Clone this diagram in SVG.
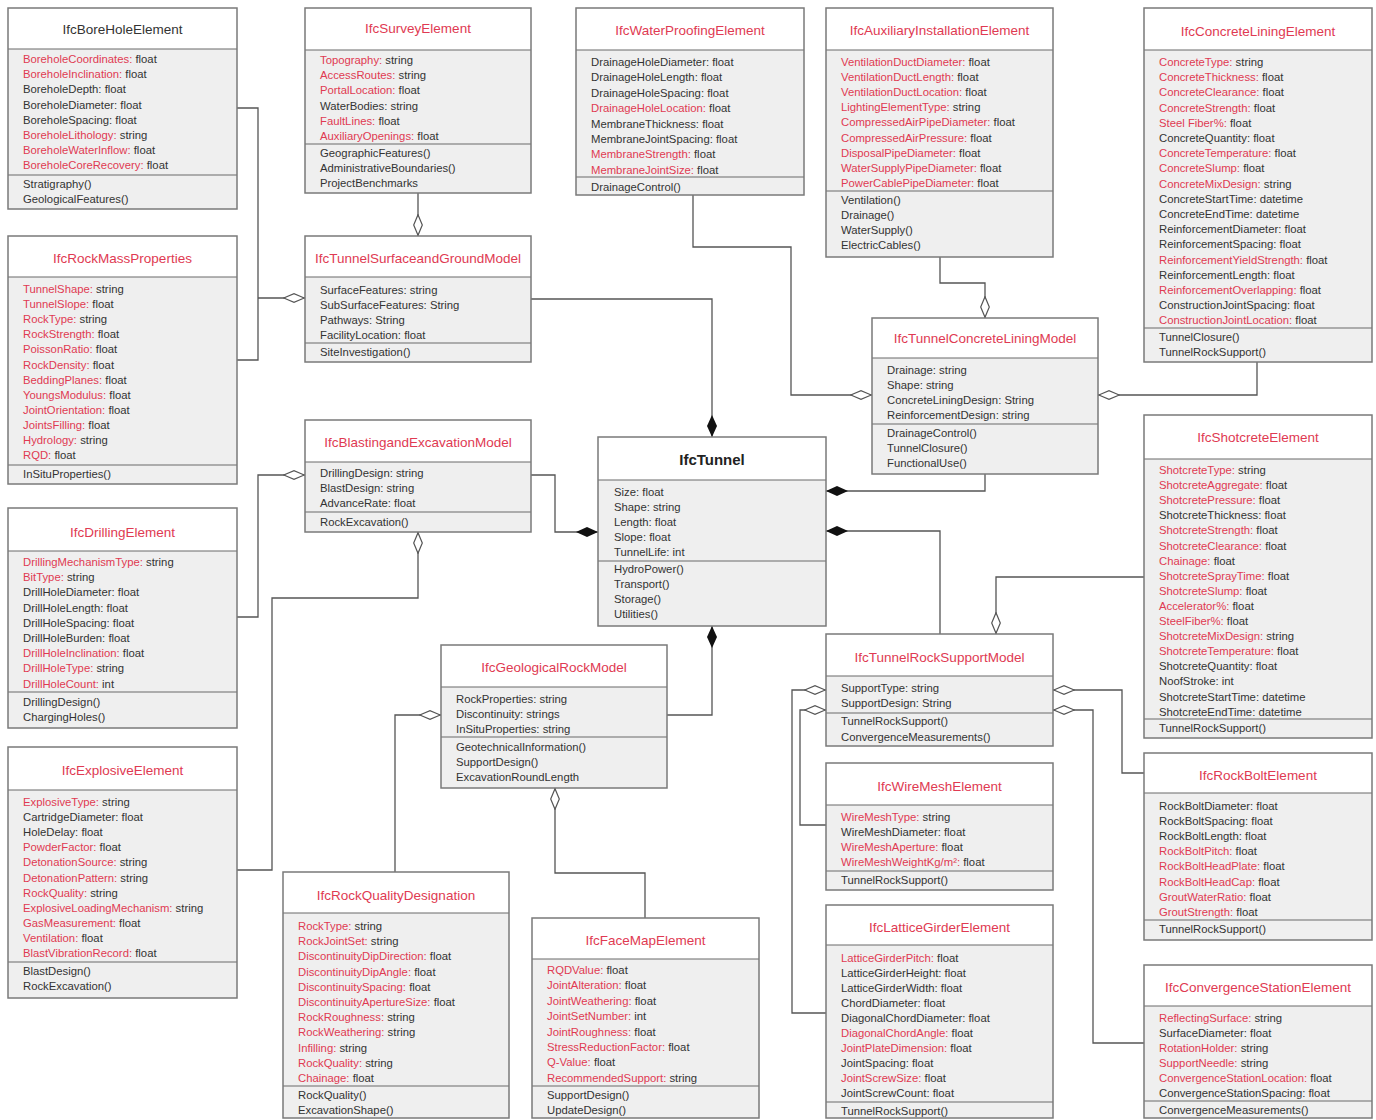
<svg xmlns="http://www.w3.org/2000/svg" width="1376" height="1120" viewBox="0 0 1376 1120">
<style>
  .body { fill: #efefef; stroke: none; }
  .head { fill: #ffffff; stroke: none; }
  .frame { fill: none; stroke: #7a7a7a; stroke-width: 1.5; }
  .div { stroke: #6a6a6a; stroke-width: 1.2; }
  text { font-family: "Liberation Sans", Arial, sans-serif; }
  .a { font-size: 11.3px; fill: #333333; }
  .r { fill: #e03a52; }
  .ttl { font-size: 13.5px; fill: #e03a52; text-anchor: middle; }
  .ttlk { font-size: 13.5px; fill: #333333; text-anchor: middle; }
  .main { font-size: 15px; font-weight: bold; fill: #222222; text-anchor: middle; }
  .link { fill: none; stroke: #555555; stroke-width: 1.3; }
  .agg { marker-end: url(#aggDiamond); }
  .comp { marker-end: url(#compDiamond); }
</style>
<defs>
  <marker id="aggDiamond" viewBox="0 0 22 10" refX="22" refY="5" markerWidth="22" markerHeight="10" markerUnits="userSpaceOnUse" orient="auto">
    <path d="M0.7,5 L11,0.7 L21.3,5 L11,9.3 Z" fill="#ffffff" stroke="#555555" stroke-width="1.2"/>
  </marker>
  <marker id="compDiamond" viewBox="0 0 22 10" refX="22" refY="5" markerWidth="22" markerHeight="10" markerUnits="userSpaceOnUse" orient="auto">
    <path d="M0,5 L11,0 L22,5 L11,10 Z" fill="#111111"/>
  </marker>
</defs>
<rect width="1376" height="1120" fill="#ffffff"/>

<!-- connectors -->
<g id="connectors">
  <polyline class="link" points="237,108 258,108 258,360 237,360"/>
  <polyline class="link agg" points="258,298 305,298"/>
  <polyline class="link agg" points="237,617 258,617 258,475 305,475"/>
  <polyline class="link agg" points="237,870 272,870 272,598 418,598 418,532"/>
  <polyline class="link agg" points="418,193 418,236"/>
  <polyline class="link comp" points="531,299 712,299 712,437"/>
  <polyline class="link comp" points="531,475 555,475 555,532 598,532"/>
  <polyline class="link comp" points="667,715 712,715 712,626"/>
  <polyline class="link comp" points="985,474 985,491 826,491"/>
  <polyline class="link comp" points="940,634 940,531 826,531"/>
  <polyline class="link agg" points="693,195 693,247 791,247 791,395 872,395"/>
  <polyline class="link agg" points="940,257 940,283 985,283 985,318"/>
  <polyline class="link agg" points="1257,362 1257,395 1098,395"/>
  <polyline class="link agg" points="1144,577 996,577 996,634"/>
  <polyline class="link agg" points="826,1013 792,1013 792,690 826,690"/>
  <polyline class="link agg" points="826,825 800,825 800,710 826,710"/>
  <polyline class="link agg" points="1144,773 1122,773 1122,690 1053,690"/>
  <polyline class="link agg" points="1144,1043 1093,1043 1093,710 1053,710"/>
  <polyline class="link agg" points="395,872 395,715 441,715"/>
  <polyline class="link agg" points="645,918 645,873 555,873 555,788"/>
</g>

<!-- IfcBoreHoleElement -->
<g id="IfcBoreHoleElement">
  <rect class="body" x="8" y="8" width="229" height="201"/>
  <rect class="head" x="8" y="8" width="229" height="41"/>
  <line class="div" x1="8" y1="49" x2="237" y2="49"/>
  <line class="div" x1="8" y1="175" x2="237" y2="175"/>
  <rect class="frame" x="8" y="8" width="229" height="201"/>
  <text class="ttlk" x="122.5" y="33.5">IfcBoreHoleElement</text>
  <text class="a" x="23" y="63"><tspan class="r">BoreholeCoordinates:</tspan> float</text>
  <text class="a" x="23" y="78.2"><tspan class="r">BoreholeInclination:</tspan> float</text>
  <text class="a" x="23" y="93.4">BoreholeDepth: float</text>
  <text class="a" x="23" y="108.6">BoreholeDiameter: float</text>
  <text class="a" x="23" y="123.8">BoreholeSpacing: float</text>
  <text class="a" x="23" y="139"><tspan class="r">BoreholeLithology:</tspan> string</text>
  <text class="a" x="23" y="154.2"><tspan class="r">BoreholeWaterInflow:</tspan> float</text>
  <text class="a" x="23" y="169.4"><tspan class="r">BoreholeCoreRecovery:</tspan> float</text>
  <text class="a" x="23" y="188">Stratigraphy()</text>
  <text class="a" x="23" y="203">GeologicalFeatures()</text>
</g>

<!-- IfcRockMassProperties -->
<g id="IfcRockMassProperties">
  <rect class="body" x="8" y="236" width="229" height="248"/>
  <rect class="head" x="8" y="236" width="229" height="41"/>
  <line class="div" x1="8" y1="277" x2="237" y2="277"/>
  <line class="div" x1="8" y1="465" x2="237" y2="465"/>
  <rect class="frame" x="8" y="236" width="229" height="248"/>
  <text class="ttl" x="122.5" y="262.5">IfcRockMassProperties</text>
  <text class="a" x="23" y="293"><tspan class="r">TunnelShape:</tspan> string</text>
  <text class="a" x="23" y="308.1"><tspan class="r">TunnelSlope:</tspan> float</text>
  <text class="a" x="23" y="323.2"><tspan class="r">RockType:</tspan> string</text>
  <text class="a" x="23" y="338.3"><tspan class="r">RockStrength:</tspan> float</text>
  <text class="a" x="23" y="353.4"><tspan class="r">PoissonRatio:</tspan> float</text>
  <text class="a" x="23" y="368.5"><tspan class="r">RockDensity:</tspan> float</text>
  <text class="a" x="23" y="383.6"><tspan class="r">BeddingPlanes:</tspan> float</text>
  <text class="a" x="23" y="398.7"><tspan class="r">YoungsModulus:</tspan> float</text>
  <text class="a" x="23" y="413.8"><tspan class="r">JointOrientation:</tspan> float</text>
  <text class="a" x="23" y="428.9"><tspan class="r">JointsFilling:</tspan> float</text>
  <text class="a" x="23" y="444"><tspan class="r">Hydrology:</tspan> string</text>
  <text class="a" x="23" y="459.1"><tspan class="r">RQD:</tspan> float</text>
  <text class="a" x="23" y="478">InSituProperties()</text>
</g>

<!-- IfcDrillingElement -->
<g id="IfcDrillingElement">
  <rect class="body" x="8" y="508" width="229" height="220"/>
  <rect class="head" x="8" y="508" width="229" height="43"/>
  <line class="div" x1="8" y1="551" x2="237" y2="551"/>
  <line class="div" x1="8" y1="692" x2="237" y2="692"/>
  <rect class="frame" x="8" y="508" width="229" height="220"/>
  <text class="ttl" x="122.5" y="536.5">IfcDrillingElement</text>
  <text class="a" x="23" y="566"><tspan class="r">DrillingMechanismType:</tspan> string</text>
  <text class="a" x="23" y="581.2"><tspan class="r">BitType:</tspan> string</text>
  <text class="a" x="23" y="596.4">DrillHoleDiameter: float</text>
  <text class="a" x="23" y="611.6">DrillHoleLength: float</text>
  <text class="a" x="23" y="626.8">DrillHoleSpacing: float</text>
  <text class="a" x="23" y="642">DrillHoleBurden: float</text>
  <text class="a" x="23" y="657.2"><tspan class="r">DrillHoleInclination:</tspan> float</text>
  <text class="a" x="23" y="672.4"><tspan class="r">DrillHoleType:</tspan> string</text>
  <text class="a" x="23" y="687.6"><tspan class="r">DrillHoleCount:</tspan> int</text>
  <text class="a" x="23" y="706">DrillingDesign()</text>
  <text class="a" x="23" y="721">ChargingHoles()</text>
</g>

<!-- IfcExplosiveElement -->
<g id="IfcExplosiveElement">
  <rect class="body" x="8" y="747" width="229" height="251"/>
  <rect class="head" x="8" y="747" width="229" height="43"/>
  <line class="div" x1="8" y1="790" x2="237" y2="790"/>
  <line class="div" x1="8" y1="962" x2="237" y2="962"/>
  <rect class="frame" x="8" y="747" width="229" height="251"/>
  <text class="ttl" x="122.5" y="774.5">IfcExplosiveElement</text>
  <text class="a" x="23" y="806"><tspan class="r">ExplosiveType:</tspan> string</text>
  <text class="a" x="23" y="821.1">CartridgeDiameter: float</text>
  <text class="a" x="23" y="836.2">HoleDelay: float</text>
  <text class="a" x="23" y="851.3"><tspan class="r">PowderFactor:</tspan> float</text>
  <text class="a" x="23" y="866.4"><tspan class="r">DetonationSource:</tspan> string</text>
  <text class="a" x="23" y="881.5"><tspan class="r">DetonationPattern:</tspan> string</text>
  <text class="a" x="23" y="896.6"><tspan class="r">RockQuality:</tspan> string</text>
  <text class="a" x="23" y="911.7"><tspan class="r">ExplosiveLoadingMechanism:</tspan> string</text>
  <text class="a" x="23" y="926.8"><tspan class="r">GasMeasurement:</tspan> float</text>
  <text class="a" x="23" y="941.9"><tspan class="r">Ventilation:</tspan> float</text>
  <text class="a" x="23" y="957"><tspan class="r">BlastVibrationRecord:</tspan> float</text>
  <text class="a" x="23" y="975">BlastDesign()</text>
  <text class="a" x="23" y="990">RockExcavation()</text>
</g>

<!-- IfcSurveyElement -->
<g id="IfcSurveyElement">
  <rect class="body" x="305" y="8" width="226" height="185"/>
  <rect class="head" x="305" y="8" width="226" height="42"/>
  <line class="div" x1="305" y1="50" x2="531" y2="50"/>
  <line class="div" x1="305" y1="144" x2="531" y2="144"/>
  <rect class="frame" x="305" y="8" width="226" height="185"/>
  <text class="ttl" x="418" y="32.5">IfcSurveyElement</text>
  <text class="a" x="320" y="64"><tspan class="r">Topography:</tspan> string</text>
  <text class="a" x="320" y="79.2"><tspan class="r">AccessRoutes:</tspan> string</text>
  <text class="a" x="320" y="94.4"><tspan class="r">PortalLocation:</tspan> float</text>
  <text class="a" x="320" y="109.6">WaterBodies: string</text>
  <text class="a" x="320" y="124.8"><tspan class="r">FaultLines:</tspan> float</text>
  <text class="a" x="320" y="140"><tspan class="r">AuxiliaryOpenings:</tspan> float</text>
  <text class="a" x="320" y="157">GeographicFeatures()</text>
  <text class="a" x="320" y="172">AdministrativeBoundaries()</text>
  <text class="a" x="320" y="187">ProjectBenchmarks</text>
</g>

<!-- IfcTunnelSurfaceandGroundModel -->
<g id="IfcTunnelSurfaceandGroundModel">
  <rect class="body" x="305" y="236" width="226" height="126"/>
  <rect class="head" x="305" y="236" width="226" height="41"/>
  <line class="div" x1="305" y1="277" x2="531" y2="277"/>
  <line class="div" x1="305" y1="343" x2="531" y2="343"/>
  <rect class="frame" x="305" y="236" width="226" height="126"/>
  <text class="ttl" x="418" y="262.5">IfcTunnelSurfaceandGroundModel</text>
  <text class="a" x="320" y="294">SurfaceFeatures: string</text>
  <text class="a" x="320" y="309">SubSurfaceFeatures: String</text>
  <text class="a" x="320" y="324">Pathways: String</text>
  <text class="a" x="320" y="339">FacilityLocation: float</text>
  <text class="a" x="320" y="356">SiteInvestigation()</text>
</g>

<!-- IfcBlastingandExcavationModel -->
<g id="IfcBlastingandExcavationModel">
  <rect class="body" x="305" y="420" width="226" height="112"/>
  <rect class="head" x="305" y="420" width="226" height="42"/>
  <line class="div" x1="305" y1="462" x2="531" y2="462"/>
  <line class="div" x1="305" y1="512" x2="531" y2="512"/>
  <rect class="frame" x="305" y="420" width="226" height="112"/>
  <text class="ttl" x="418" y="446.5">IfcBlastingandExcavationModel</text>
  <text class="a" x="320" y="477">DrillingDesign: string</text>
  <text class="a" x="320" y="492">BlastDesign: string</text>
  <text class="a" x="320" y="507">AdvanceRate: float</text>
  <text class="a" x="320" y="526">RockExcavation()</text>
</g>

<!-- IfcWaterProofingElement -->
<g id="IfcWaterProofingElement">
  <rect class="body" x="576" y="8" width="228" height="187"/>
  <rect class="head" x="576" y="8" width="228" height="42"/>
  <line class="div" x1="576" y1="50" x2="804" y2="50"/>
  <line class="div" x1="576" y1="177" x2="804" y2="177"/>
  <rect class="frame" x="576" y="8" width="228" height="187"/>
  <text class="ttl" x="690" y="34.5">IfcWaterProofingElement</text>
  <text class="a" x="591" y="66">DrainageHoleDiameter: float</text>
  <text class="a" x="591" y="81.4">DrainageHoleLength: float</text>
  <text class="a" x="591" y="96.8">DrainageHoleSpacing: float</text>
  <text class="a" x="591" y="112.2"><tspan class="r">DrainageHoleLocation:</tspan> float</text>
  <text class="a" x="591" y="127.6">MembraneThickness: float</text>
  <text class="a" x="591" y="143">MembraneJointSpacing: float</text>
  <text class="a" x="591" y="158.4"><tspan class="r">MembraneStrength:</tspan> float</text>
  <text class="a" x="591" y="173.8"><tspan class="r">MembraneJointSize:</tspan> float</text>
  <text class="a" x="591" y="191">DrainageControl()</text>
</g>

<!-- IfcAuxiliaryInstallationElement -->
<g id="IfcAuxiliaryInstallationElement">
  <rect class="body" x="826" y="8" width="227" height="249"/>
  <rect class="head" x="826" y="8" width="227" height="42"/>
  <line class="div" x1="826" y1="50" x2="1053" y2="50"/>
  <line class="div" x1="826" y1="191" x2="1053" y2="191"/>
  <rect class="frame" x="826" y="8" width="227" height="249"/>
  <text class="ttl" x="939.5" y="34.5">IfcAuxiliaryInstallationElement</text>
  <text class="a" x="841" y="66"><tspan class="r">VentilationDuctDiameter:</tspan> float</text>
  <text class="a" x="841" y="81.1"><tspan class="r">VentilationDuctLength:</tspan> float</text>
  <text class="a" x="841" y="96.2"><tspan class="r">VentilationDuctLocation:</tspan> float</text>
  <text class="a" x="841" y="111.3"><tspan class="r">LightingElementType:</tspan> string</text>
  <text class="a" x="841" y="126.4"><tspan class="r">CompressedAirPipeDiameter:</tspan> float</text>
  <text class="a" x="841" y="141.5"><tspan class="r">CompressedAirPressure:</tspan> float</text>
  <text class="a" x="841" y="156.6"><tspan class="r">DisposalPipeDiameter:</tspan> float</text>
  <text class="a" x="841" y="171.7"><tspan class="r">WaterSupplyPipeDiameter:</tspan> float</text>
  <text class="a" x="841" y="186.8"><tspan class="r">PowerCablePipeDiameter:</tspan> float</text>
  <text class="a" x="841" y="204">Ventilation()</text>
  <text class="a" x="841" y="219">Drainage()</text>
  <text class="a" x="841" y="234">WaterSupply()</text>
  <text class="a" x="841" y="249">ElectricCables()</text>
</g>

<!-- IfcConcreteLiningElement -->
<g id="IfcConcreteLiningElement">
  <rect class="body" x="1144" y="8" width="228" height="354"/>
  <rect class="head" x="1144" y="8" width="228" height="42"/>
  <line class="div" x1="1144" y1="50" x2="1372" y2="50"/>
  <line class="div" x1="1144" y1="328" x2="1372" y2="328"/>
  <rect class="frame" x="1144" y="8" width="228" height="354"/>
  <text class="ttl" x="1258" y="35.5">IfcConcreteLiningElement</text>
  <text class="a" x="1159" y="66"><tspan class="r">ConcreteType:</tspan> string</text>
  <text class="a" x="1159" y="81.2"><tspan class="r">ConcreteThickness:</tspan> float</text>
  <text class="a" x="1159" y="96.4"><tspan class="r">ConcreteClearance:</tspan> float</text>
  <text class="a" x="1159" y="111.6"><tspan class="r">ConcreteStrength:</tspan> float</text>
  <text class="a" x="1159" y="126.8"><tspan class="r">Steel Fiber%:</tspan> float</text>
  <text class="a" x="1159" y="142">ConcreteQuantity: float</text>
  <text class="a" x="1159" y="157.2"><tspan class="r">ConcreteTemperature:</tspan> float</text>
  <text class="a" x="1159" y="172.4"><tspan class="r">ConcreteSlump:</tspan> float</text>
  <text class="a" x="1159" y="187.6"><tspan class="r">ConcreteMixDesign:</tspan> string</text>
  <text class="a" x="1159" y="202.8">ConcreteStartTime: datetime</text>
  <text class="a" x="1159" y="218">ConcreteEndTime: datetime</text>
  <text class="a" x="1159" y="233.2">ReinforcementDiameter: float</text>
  <text class="a" x="1159" y="248.4">ReinforcementSpacing: float</text>
  <text class="a" x="1159" y="263.6"><tspan class="r">ReinforcementYieldStrength:</tspan> float</text>
  <text class="a" x="1159" y="278.8">ReinforcementLength: float</text>
  <text class="a" x="1159" y="294"><tspan class="r">ReinforcementOverlapping:</tspan> float</text>
  <text class="a" x="1159" y="309.2">ConstructionJointSpacing: float</text>
  <text class="a" x="1159" y="324.4"><tspan class="r">ConstructionJointLocation:</tspan> float</text>
  <text class="a" x="1159" y="341">TunnelClosure()</text>
  <text class="a" x="1159" y="356">TunnelRockSupport()</text>
</g>

<!-- IfcTunnelConcreteLiningModel -->
<g id="IfcTunnelConcreteLiningModel">
  <rect class="body" x="872" y="318" width="226" height="156"/>
  <rect class="head" x="872" y="318" width="226" height="40"/>
  <line class="div" x1="872" y1="358" x2="1098" y2="358"/>
  <line class="div" x1="872" y1="424" x2="1098" y2="424"/>
  <rect class="frame" x="872" y="318" width="226" height="156"/>
  <text class="ttl" x="985" y="342.5">IfcTunnelConcreteLiningModel</text>
  <text class="a" x="887" y="374">Drainage: string</text>
  <text class="a" x="887" y="389">Shape: string</text>
  <text class="a" x="887" y="404">ConcreteLiningDesign: String</text>
  <text class="a" x="887" y="419">ReinforcementDesign: string</text>
  <text class="a" x="887" y="437">DrainageControl()</text>
  <text class="a" x="887" y="452">TunnelClosure()</text>
  <text class="a" x="887" y="467">FunctionalUse()</text>
</g>

<!-- IfcTunnel -->
<g id="IfcTunnel">
  <rect class="body" x="598" y="437" width="228" height="189"/>
  <rect class="head" x="598" y="437" width="228" height="43"/>
  <line class="div" x1="598" y1="480" x2="826" y2="480"/>
  <line class="div" x1="598" y1="561" x2="826" y2="561"/>
  <rect class="frame" x="598" y="437" width="228" height="189"/>
  <text class="main" x="712" y="464.5">IfcTunnel</text>
  <text class="a" x="614" y="496">Size: float</text>
  <text class="a" x="614" y="511">Shape: string</text>
  <text class="a" x="614" y="526">Length: float</text>
  <text class="a" x="614" y="541">Slope: float</text>
  <text class="a" x="614" y="556">TunnelLife: int</text>
  <text class="a" x="614" y="573">HydroPower()</text>
  <text class="a" x="614" y="588">Transport()</text>
  <text class="a" x="614" y="603">Storage()</text>
  <text class="a" x="614" y="618">Utilities()</text>
</g>

<!-- IfcShotcreteElement -->
<g id="IfcShotcreteElement">
  <rect class="body" x="1144" y="415" width="228" height="323"/>
  <rect class="head" x="1144" y="415" width="228" height="44"/>
  <line class="div" x1="1144" y1="459" x2="1372" y2="459"/>
  <line class="div" x1="1144" y1="719" x2="1372" y2="719"/>
  <rect class="frame" x="1144" y="415" width="228" height="323"/>
  <text class="ttl" x="1258" y="441.5">IfcShotcreteElement</text>
  <text class="a" x="1159" y="474"><tspan class="r">ShotcreteType:</tspan> string</text>
  <text class="a" x="1159" y="489.1"><tspan class="r">ShotcreteAggregate:</tspan> float</text>
  <text class="a" x="1159" y="504.2"><tspan class="r">ShotcretePressure:</tspan> float</text>
  <text class="a" x="1159" y="519.3">ShotcreteThickness: float</text>
  <text class="a" x="1159" y="534.4"><tspan class="r">ShotcreteStrength:</tspan> float</text>
  <text class="a" x="1159" y="549.5"><tspan class="r">ShotcreteClearance:</tspan> float</text>
  <text class="a" x="1159" y="564.6"><tspan class="r">Chainage:</tspan> float</text>
  <text class="a" x="1159" y="579.7"><tspan class="r">ShotcreteSprayTime:</tspan> float</text>
  <text class="a" x="1159" y="594.8"><tspan class="r">ShotcreteSlump:</tspan> float</text>
  <text class="a" x="1159" y="609.9"><tspan class="r">Accelerator%:</tspan> float</text>
  <text class="a" x="1159" y="625"><tspan class="r">SteelFiber%:</tspan> float</text>
  <text class="a" x="1159" y="640.1"><tspan class="r">ShotcreteMixDesign:</tspan> string</text>
  <text class="a" x="1159" y="655.2"><tspan class="r">ShotcreteTemperature:</tspan> float</text>
  <text class="a" x="1159" y="670.3">ShotcreteQuantity: float</text>
  <text class="a" x="1159" y="685.4">NoofStroke: int</text>
  <text class="a" x="1159" y="700.5">ShotcreteStartTime: datetime</text>
  <text class="a" x="1159" y="715.6">ShotcreteEndTime: datetime</text>
  <text class="a" x="1159" y="732">TunnelRockSupport()</text>
</g>

<!-- IfcGeologicalRockModel -->
<g id="IfcGeologicalRockModel">
  <rect class="body" x="441" y="645" width="226" height="143"/>
  <rect class="head" x="441" y="645" width="226" height="42"/>
  <line class="div" x1="441" y1="687" x2="667" y2="687"/>
  <line class="div" x1="441" y1="737" x2="667" y2="737"/>
  <rect class="frame" x="441" y="645" width="226" height="143"/>
  <text class="ttl" x="554" y="671.5">IfcGeologicalRockModel</text>
  <text class="a" x="456" y="703">RockProperties: string</text>
  <text class="a" x="456" y="718">Discontinuity: strings</text>
  <text class="a" x="456" y="733">InSituProperties: string</text>
  <text class="a" x="456" y="751">GeotechnicalInformation()</text>
  <text class="a" x="456" y="766">SupportDesign()</text>
  <text class="a" x="456" y="781">ExcavationRoundLength</text>
</g>

<!-- IfcTunnelRockSupportModel -->
<g id="IfcTunnelRockSupportModel">
  <rect class="body" x="826" y="634" width="227" height="112"/>
  <rect class="head" x="826" y="634" width="227" height="42"/>
  <line class="div" x1="826" y1="676" x2="1053" y2="676"/>
  <line class="div" x1="826" y1="713" x2="1053" y2="713"/>
  <rect class="frame" x="826" y="634" width="227" height="112"/>
  <text class="ttl" x="939.5" y="661.5">IfcTunnelRockSupportModel</text>
  <text class="a" x="841" y="692">SupportType: string</text>
  <text class="a" x="841" y="707">SupportDesign: String</text>
  <text class="a" x="841" y="725">TunnelRockSupport()</text>
  <text class="a" x="841" y="741">ConvergenceMeasurements()</text>
</g>

<!-- IfcWireMeshElement -->
<g id="IfcWireMeshElement">
  <rect class="body" x="826" y="763" width="227" height="127"/>
  <rect class="head" x="826" y="763" width="227" height="42"/>
  <line class="div" x1="826" y1="805" x2="1053" y2="805"/>
  <line class="div" x1="826" y1="871" x2="1053" y2="871"/>
  <rect class="frame" x="826" y="763" width="227" height="127"/>
  <text class="ttl" x="939.5" y="790.5">IfcWireMeshElement</text>
  <text class="a" x="841" y="821"><tspan class="r">WireMeshType:</tspan> string</text>
  <text class="a" x="841" y="836">WireMeshDiameter: float</text>
  <text class="a" x="841" y="851"><tspan class="r">WireMeshAperture:</tspan> float</text>
  <text class="a" x="841" y="866"><tspan class="r">WireMeshWeightKg/m²:</tspan> float</text>
  <text class="a" x="841" y="884">TunnelRockSupport()</text>
</g>

<!-- IfcLatticeGirderElement -->
<g id="IfcLatticeGirderElement">
  <rect class="body" x="826" y="905" width="227" height="213"/>
  <rect class="head" x="826" y="905" width="227" height="40"/>
  <line class="div" x1="826" y1="945" x2="1053" y2="945"/>
  <line class="div" x1="826" y1="1102" x2="1053" y2="1102"/>
  <rect class="frame" x="826" y="905" width="227" height="213"/>
  <text class="ttl" x="939.5" y="931.5">IfcLatticeGirderElement</text>
  <text class="a" x="841" y="962"><tspan class="r">LatticeGirderPitch:</tspan> float</text>
  <text class="a" x="841" y="977">LatticeGirderHeight: float</text>
  <text class="a" x="841" y="992">LatticeGirderWidth: float</text>
  <text class="a" x="841" y="1007">ChordDiameter: float</text>
  <text class="a" x="841" y="1022">DiagonalChordDiameter: float</text>
  <text class="a" x="841" y="1037"><tspan class="r">DiagonalChordAngle:</tspan> float</text>
  <text class="a" x="841" y="1052"><tspan class="r">JointPlateDimension:</tspan> float</text>
  <text class="a" x="841" y="1067">JointSpacing: float</text>
  <text class="a" x="841" y="1082"><tspan class="r">JointScrewSize:</tspan> float</text>
  <text class="a" x="841" y="1097">JointScrewCount: float</text>
  <text class="a" x="841" y="1114.5">TunnelRockSupport()</text>
</g>

<!-- IfcRockBoltElement -->
<g id="IfcRockBoltElement">
  <rect class="body" x="1144" y="753" width="228" height="187"/>
  <rect class="head" x="1144" y="753" width="228" height="40"/>
  <line class="div" x1="1144" y1="793" x2="1372" y2="793"/>
  <line class="div" x1="1144" y1="920" x2="1372" y2="920"/>
  <rect class="frame" x="1144" y="753" width="228" height="187"/>
  <text class="ttl" x="1258" y="779.5">IfcRockBoltElement</text>
  <text class="a" x="1159" y="810">RockBoltDiameter: float</text>
  <text class="a" x="1159" y="825.1">RockBoltSpacing: float</text>
  <text class="a" x="1159" y="840.2">RockBoltLength: float</text>
  <text class="a" x="1159" y="855.3"><tspan class="r">RockBoltPitch:</tspan> float</text>
  <text class="a" x="1159" y="870.4"><tspan class="r">RockBoltHeadPlate:</tspan> float</text>
  <text class="a" x="1159" y="885.5"><tspan class="r">RockBoltHeadCap:</tspan> float</text>
  <text class="a" x="1159" y="900.6"><tspan class="r">GroutWaterRatio:</tspan> float</text>
  <text class="a" x="1159" y="915.7"><tspan class="r">GroutStrength:</tspan> float</text>
  <text class="a" x="1159" y="933">TunnelRockSupport()</text>
</g>

<!-- IfcConvergenceStationElement -->
<g id="IfcConvergenceStationElement">
  <rect class="body" x="1144" y="965" width="228" height="153"/>
  <rect class="head" x="1144" y="965" width="228" height="41"/>
  <line class="div" x1="1144" y1="1006" x2="1372" y2="1006"/>
  <line class="div" x1="1144" y1="1101" x2="1372" y2="1101"/>
  <rect class="frame" x="1144" y="965" width="228" height="153"/>
  <text class="ttl" x="1258" y="991.5">IfcConvergenceStationElement</text>
  <text class="a" x="1159" y="1022"><tspan class="r">ReflectingSurface:</tspan> string</text>
  <text class="a" x="1159" y="1037">SurfaceDiameter: float</text>
  <text class="a" x="1159" y="1052"><tspan class="r">RotationHolder:</tspan> string</text>
  <text class="a" x="1159" y="1067"><tspan class="r">SupportNeedle:</tspan> string</text>
  <text class="a" x="1159" y="1082"><tspan class="r">ConvergenceStationLocation:</tspan> float</text>
  <text class="a" x="1159" y="1097">ConvergenceStationSpacing: float</text>
  <text class="a" x="1159" y="1114">ConvergenceMeasurements()</text>
</g>

<!-- IfcRockQualityDesignation -->
<g id="IfcRockQualityDesignation">
  <rect class="body" x="283" y="872" width="226" height="246"/>
  <rect class="head" x="283" y="872" width="226" height="41"/>
  <line class="div" x1="283" y1="913" x2="509" y2="913"/>
  <line class="div" x1="283" y1="1086" x2="509" y2="1086"/>
  <rect class="frame" x="283" y="872" width="226" height="246"/>
  <text class="ttl" x="396" y="899.5">IfcRockQualityDesignation</text>
  <text class="a" x="298" y="930"><tspan class="r">RockType:</tspan> string</text>
  <text class="a" x="298" y="945.2"><tspan class="r">RockJointSet:</tspan> string</text>
  <text class="a" x="298" y="960.4"><tspan class="r">DiscontinuityDipDirection:</tspan> float</text>
  <text class="a" x="298" y="975.6"><tspan class="r">DiscontinuityDipAngle:</tspan> float</text>
  <text class="a" x="298" y="990.8"><tspan class="r">DiscontinuitySpacing:</tspan> float</text>
  <text class="a" x="298" y="1006"><tspan class="r">DiscontinuityApertureSize:</tspan> float</text>
  <text class="a" x="298" y="1021.2"><tspan class="r">RockRoughness:</tspan> string</text>
  <text class="a" x="298" y="1036.4"><tspan class="r">RockWeathering:</tspan> string</text>
  <text class="a" x="298" y="1051.6"><tspan class="r">Infilling:</tspan> string</text>
  <text class="a" x="298" y="1066.8"><tspan class="r">RockQuality:</tspan> string</text>
  <text class="a" x="298" y="1082"><tspan class="r">Chainage:</tspan> float</text>
  <text class="a" x="298" y="1099">RockQuality()</text>
  <text class="a" x="298" y="1114">ExcavationShape()</text>
</g>

<!-- IfcFaceMapElement -->
<g id="IfcFaceMapElement">
  <rect class="body" x="532" y="918" width="227" height="200"/>
  <rect class="head" x="532" y="918" width="227" height="41"/>
  <line class="div" x1="532" y1="959" x2="759" y2="959"/>
  <line class="div" x1="532" y1="1086" x2="759" y2="1086"/>
  <rect class="frame" x="532" y="918" width="227" height="200"/>
  <text class="ttl" x="645.5" y="944.5">IfcFaceMapElement</text>
  <text class="a" x="547" y="974"><tspan class="r">RQDValue:</tspan> float</text>
  <text class="a" x="547" y="989.4"><tspan class="r">JointAlteration:</tspan> float</text>
  <text class="a" x="547" y="1004.8"><tspan class="r">JointWeathering:</tspan> float</text>
  <text class="a" x="547" y="1020.2"><tspan class="r">JointSetNumber:</tspan> int</text>
  <text class="a" x="547" y="1035.6"><tspan class="r">JointRoughness:</tspan> float</text>
  <text class="a" x="547" y="1051"><tspan class="r">StressReductionFactor:</tspan> float</text>
  <text class="a" x="547" y="1066.4"><tspan class="r">Q-Value:</tspan> float</text>
  <text class="a" x="547" y="1081.8"><tspan class="r">RecommendedSupport:</tspan> string</text>
  <text class="a" x="547" y="1099">SupportDesign()</text>
  <text class="a" x="547" y="1114">UpdateDesign()</text>
</g>
</svg>
